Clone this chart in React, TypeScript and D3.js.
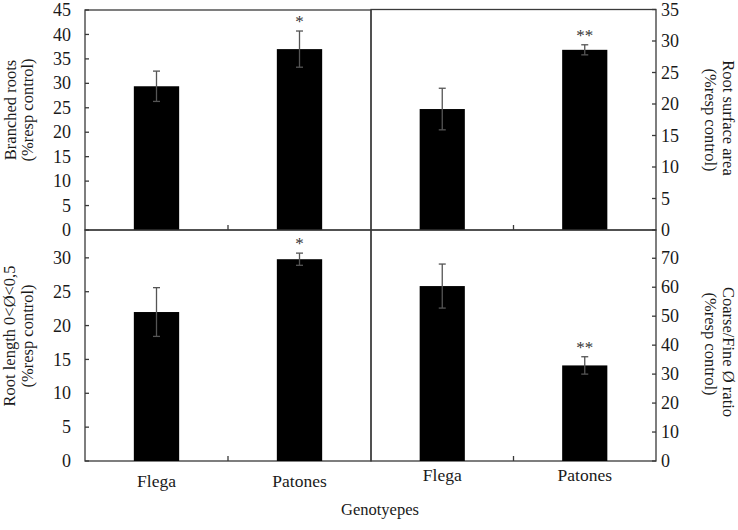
import React from "react";
import * as d3 from "d3";

const categories = ["Flega", "Patones"];

const branchedMeans = [29.4, 37.0];
const branchedErr = [3.1, 3.7];
const branchedSig = ["", "*"];
const branchedTicks = [0, 5, 10, 15, 20, 25, 30, 35, 40, 45];

const surfaceMeans = [19.2, 28.6];
const surfaceErr = [3.3, 0.8];
const surfaceSig = ["", "**"];
const surfaceTicks = [0, 5, 10, 15, 20, 25, 30, 35];

const lengthMeans = [22.0, 29.8];
const lengthErr = [3.6, 0.9];
const lengthSig = ["", "*"];
const lengthTicks = [0, 5, 10, 15, 20, 25, 30];

const ratioMeans = [60.4, 33.0];
const ratioErr = [7.6, 3.0];
const ratioSig = ["", "**"];
const ratioTicks = [0, 10, 20, 30, 40, 50, 60, 70];

const xAxisTitle = "Genotyepes";

const FONT = "'Liberation Serif', 'Times New Roman', serif";
const LINE = "#3a3a3a";

type PanelProps = {
  x0: number;
  x1: number;
  frameTop: number;
  bottom: number;
  domainMax: number;
  scaleTop: number;
  ticks: number[];
  side: "left" | "right";
  means: number[];
  errs: number[];
  sig: string[];
  titleLines: string[];
  titleCenter: number[];
  titleX: number[];
  showCats: boolean;
  catY: number;
};

function Panel(p: PanelProps) {
  const x = d3
    .scaleBand<string>()
    .domain(categories)
    .range([p.x0, p.x1])
    .paddingInner(0.683)
    .paddingOuter(0.3415);
  const y = d3.scaleLinear().domain([0, p.domainMax]).range([p.bottom, p.scaleTop]);
  const axisX = p.side === "left" ? p.x0 : p.x1;
  const dir = p.side === "left" ? 1 : -1;
  const midX = (p.x0 + p.x1) / 2;
  return (
    <g>
      <rect
        x={p.x0}
        y={p.frameTop}
        width={p.x1 - p.x0}
        height={p.bottom - p.frameTop}
        fill="none"
        stroke={LINE}
        strokeWidth={1.3}
      />
      {categories.map((c, i) => (
        <rect
          key={c}
          x={x(c)!}
          y={y(p.means[i])}
          width={x.bandwidth()}
          height={p.bottom - y(p.means[i])}
          fill="#000"
        />
      ))}
      {categories.map((c, i) => {
        const cx = x(c)! + x.bandwidth() / 2;
        const yt = y(p.means[i] + p.errs[i]);
        const yb = y(p.means[i] - p.errs[i]);
        return (
          <g key={c + "e"} stroke="#555" strokeWidth={1.3}>
            <line x1={cx} x2={cx} y1={yt} y2={yb} />
            <line x1={cx - 3.5} x2={cx + 3.5} y1={yt} y2={yt} />
            <line x1={cx - 3.5} x2={cx + 3.5} y1={yb} y2={yb} />
          </g>
        );
      })}
      {categories.map((c, i) =>
        p.sig[i] ? (
          <text
            key={c + "s"}
            x={x(c)! + x.bandwidth() / 2}
            y={y(p.means[i] + p.errs[i]) - 4}
            textAnchor="middle"
            fontFamily={FONT}
            fontSize={17}
            fill="#333"
          >
            {p.sig[i]}
          </text>
        ) : null
      )}
      {p.ticks.map((t) => (
        <g key={t}>
          <line
            x1={axisX}
            x2={axisX + dir * 4}
            y1={y(t)}
            y2={y(t)}
            stroke={LINE}
            strokeWidth={1.3}
          />
          <text
            x={p.side === "left" ? axisX - 14 : axisX + 5}
            y={y(t)}
            dy="0.34em"
            textAnchor={p.side === "left" ? "end" : "start"}
            fontFamily={FONT}
            fontSize={18}
            fill="#1a1a1a"
          >
            {t}
          </text>
        </g>
      ))}
      <line x1={midX} x2={midX} y1={p.bottom} y2={p.bottom - 5} stroke={LINE} strokeWidth={1.3} />
      {p.titleLines.map((ln, i) => (
        <text
          key={ln}
          transform={`translate(${p.titleX[i]},${p.titleCenter[i]}) rotate(${p.side === "left" ? -90 : 90})`}
          textAnchor="middle"
          fontFamily={FONT}
          fontSize={16.5}
          fill="#1a1a1a"
        >
          {ln}
        </text>
      ))}
      {p.showCats &&
        categories.map((c) => (
          <text
            key={c + "l"}
            x={x(c)! + x.bandwidth() / 2}
            y={p.catY}
            textAnchor="middle"
            fontFamily={FONT}
            fontSize={17.5}
            fill="#1a1a1a"
          >
            {c}
          </text>
        ))}
    </g>
  );
}

export default function App() {
  return (
    <svg
      width={738}
      height={530}
      style={{ position: "absolute", left: 0, top: 0, background: "#fff" }}
    >
      <rect width={738} height={530} fill="#fff" />
      <Panel
        x0={85}
        x1={371}
        frameTop={10}
        bottom={230}
        domainMax={45}
        scaleTop={10}
        ticks={branchedTicks}
        side="left"
        means={branchedMeans}
        errs={branchedErr}
        sig={branchedSig}
        titleLines={["Branched roots", "(%resp control)"]}
        titleCenter={[110, 110]}
        titleX={[16, 33]}
        showCats={false}
        catY={0}
      />
      <Panel
        x0={371}
        x1={656}
        frameTop={9.5}
        bottom={230}
        domainMax={35}
        scaleTop={9.5}
        ticks={surfaceTicks}
        side="right"
        means={surfaceMeans}
        errs={surfaceErr}
        sig={surfaceSig}
        titleLines={["Root surface area", "(%resp control)"]}
        titleCenter={[118, 120]}
        titleX={[723, 705]}
        showCats={false}
        catY={0}
      />
      <Panel
        x0={85}
        x1={371}
        frameTop={230}
        bottom={461}
        domainMax={35}
        scaleTop={224}
        ticks={lengthTicks}
        side="left"
        means={lengthMeans}
        errs={lengthErr}
        sig={lengthSig}
        titleLines={["Root length 0<Ø<0,5", "(%resp control)"]}
        titleCenter={[336, 336]}
        titleX={[15, 33]}
        showCats={true}
        catY={487}
      />
      <Panel
        x0={371}
        x1={656}
        frameTop={230}
        bottom={461}
        domainMax={80}
        scaleTop={229.3}
        ticks={ratioTicks}
        side="right"
        means={ratioMeans}
        errs={ratioErr}
        sig={ratioSig}
        titleLines={["Coarse/Fine Ø ratio", "(%resp control)"]}
        titleCenter={[352, 344]}
        titleX={[723, 705]}
        showCats={true}
        catY={481}
      />
      <text
        x={380}
        y={515}
        textAnchor="middle"
        fontFamily={FONT}
        fontSize={16.5}
        fill="#1a1a1a"
      >
        {xAxisTitle}
      </text>
    </svg>
  );
}
